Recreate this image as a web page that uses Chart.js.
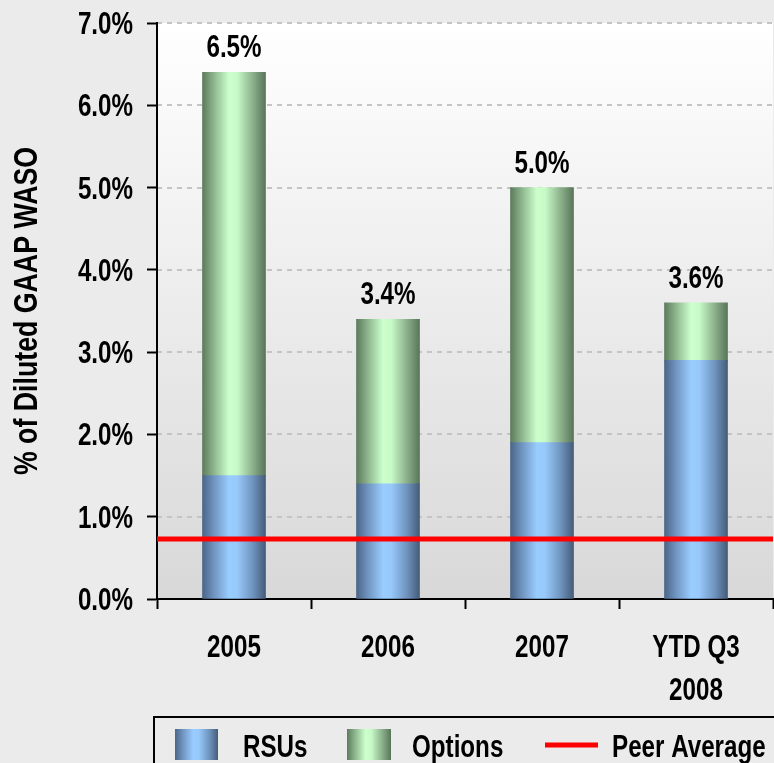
<!DOCTYPE html>
<html>
<head>
<meta charset="utf-8">
<script src="https://cdn.jsdelivr.net/npm/chart.js@4.4.1/dist/chart.umd.min.js"></script>
<style>
  html, body { margin: 0; padding: 0; background: #ebebeb; }
</style>
</head>
<body>
<canvas id="myChart" width="774" height="763"></canvas>
<script>
// values (percent of diluted GAAP WASO)
const categories = ['2005', '2006', '2007', ['YTD Q3', '2008']];
const rsus = [1.5, 1.4, 1.9, 2.9];
const options = [4.9, 2.0, 3.1, 0.7];
const totalLabels = ['6.5%', '3.4%', '5.0%', '3.6%'];
const peerAverage = [0.73];
const legendNames = ['RSUs', 'Options', 'Peer Average'];
const yTitle = '% of Diluted GAAP WASO';

const FONT = "'Liberation Sans', Arial, sans-serif";
const SQUEEZE = 0.78;   // narrow look, no condensed face installed
const BAR_W = 63;

const blueStops = ['#4b6688', '#6f94bf', '#99ccff', '#97c9fb', '#6f93bd', '#455c7a'];
const greenStops = ['#5d7b5d', '#8db58d', '#ccffcc', '#c8fac8', '#8bb08b', '#597559'];

function makeGradient(ctx, x0, x1, stops) {
  const g = ctx.createLinearGradient(x0, 0, x1, 0);
  const pos = [0, 0.18, 0.42, 0.55, 0.8, 1];
  stops.forEach((c, i) => g.addColorStop(pos[i], c));
  return g;
}

function barFill(stops) {
  return (c) => {
    const chart = c.chart;
    const xs = chart.scales.x;
    if (!chart.chartArea || !xs) return stops[2];
    const cx = xs.getPixelForValue(c.dataIndex);
    return makeGradient(chart.ctx, cx - BAR_W / 2, cx + BAR_W / 2, stops);
  };
}

function narrowText(ctx, text, x, y, align, size, squeeze) {
  ctx.save();
  ctx.translate(x, y);
  ctx.scale(squeeze || SQUEEZE, 1);
  ctx.font = 'bold ' + (size || 31) + 'px ' + FONT;
  ctx.textAlign = align;
  ctx.textBaseline = 'alphabetic';
  ctx.fillStyle = '#000';
  ctx.fillText(text, 0, 0);
  ctx.restore();
}

// page + plot area background, dashed grid
const backdrop = {
  id: 'backdrop',
  beforeDraw(chart) {
    const { ctx, chartArea: a } = chart;
    ctx.save();
    ctx.fillStyle = '#ebebeb';
    ctx.fillRect(0, 0, chart.width, chart.height);
    const g = ctx.createLinearGradient(0, a.top, 0, a.bottom);
    g.addColorStop(0, '#ffffff');
    g.addColorStop(1, '#d8d8d8');
    ctx.fillStyle = g;
    ctx.fillRect(a.left, a.top, a.right - a.left, a.bottom - a.top);
    const ys = chart.scales.y;
    ctx.strokeStyle = '#c4c4c4';
    ctx.lineWidth = 2;
    ctx.setLineDash([5, 5]);
    ys.ticks.forEach(t => {
      if (t.value === 0) return;
      const y = Math.round(ys.getPixelForValue(t.value));
      ctx.beginPath();
      ctx.moveTo(a.left, y);
      ctx.lineTo(a.right, y);
      ctx.stroke();
    });
    ctx.restore();
  }
};

// peer line, totals, axis texts and legend
const extras = {
  id: 'extras',
  afterDatasetsDraw(chart) {
    const { ctx, chartArea: a } = chart;
    const ys = chart.scales.y;
    ctx.save();
    const py = ys.getPixelForValue(peerAverage[0]);
    ctx.strokeStyle = '#ff0000';
    ctx.lineWidth = 5;
    ctx.beginPath();
    ctx.moveTo(a.left, py);
    ctx.lineTo(a.right, py);
    ctx.stroke();
    ctx.restore();

    chart.getDatasetMeta(1).data.forEach((bar, i) => {
      narrowText(ctx, totalLabels[i], bar.x, bar.y - 15, 'center');
    });
  },
  afterDraw(chart) {
    const ctx = chart.ctx;
    const xs = chart.scales.x;
    const ys = chart.scales.y;
    const a = chart.chartArea;

    // y tick labels
    ys.ticks.forEach(t => {
      narrowText(ctx, t.value.toFixed(1) + '%', 133, ys.getPixelForValue(t.value) + 11, 'right');
    });
    // x tick labels
    categories.forEach((c, i) => {
      const lines = Array.isArray(c) ? c : [c];
      lines.forEach((line, k) => {
        narrowText(ctx, line, xs.getPixelForValue(i), xs.top + 58 + k * 43, 'center');
      });
    });
    // y title
    ctx.save();
    ctx.translate(37, (a.top + a.bottom) / 2);
    ctx.rotate(-Math.PI / 2);
    narrowText(ctx, yTitle, 0, 0, 'center', 33, 0.81);
    ctx.restore();

    // legend
    ctx.save();
    ctx.strokeStyle = '#000';
    ctx.lineWidth = 2;
    ctx.strokeRect(154, 717, 640, 60);

    ctx.fillStyle = makeGradient(ctx, 175, 218, blueStops);
    ctx.fillRect(175, 729, 43, 31);
    ctx.fillStyle = makeGradient(ctx, 347, 391, greenStops);
    ctx.fillRect(347, 729, 44, 31);

    ctx.strokeStyle = '#ff0000';
    ctx.lineWidth = 5;
    ctx.beginPath();
    ctx.moveTo(545, 745);
    ctx.lineTo(598, 745);
    ctx.stroke();
    ctx.restore();

    narrowText(ctx, legendNames[0], 243, 757, 'left');
    narrowText(ctx, legendNames[1], 412, 757, 'left');
    narrowText(ctx, legendNames[2], 612, 757, 'left');
  }
};

const ctx = document.getElementById('myChart');

new Chart(ctx, {
  type: 'bar',
  data: {
    labels: categories,
    datasets: [{
      label: legendNames[0],
      data: rsus,
      backgroundColor: barFill(blueStops),
      barThickness: BAR_W
    }, {
      label: legendNames[1],
      data: options,
      backgroundColor: barFill(greenStops),
      barThickness: BAR_W
    }]
  },
  options: {
    responsive: false,
    animation: false,
    devicePixelRatio: 1,
    layout: { padding: { top: 23, right: 1, bottom: 47, left: 0 } },
    plugins: {
      legend: { display: false },
      tooltip: { enabled: false }
    },
    scales: {
      x: {
        stacked: true,
        afterFit(s) { s.height = 117; },
        grid: {
          offset: true,
          drawOnChartArea: false,
          tickLength: 10,
          tickColor: '#000',
          tickWidth: 2
        },
        border: { color: '#000', width: 2 },
        ticks: { display: false }
      },
      y: {
        stacked: true,
        min: 0,
        max: 7,
        afterFit(s) { s.width = 157; },
        grid: {
          drawOnChartArea: false,
          tickLength: 10,
          tickColor: '#000',
          tickWidth: 2
        },
        border: { color: '#000', width: 2 },
        ticks: { display: false, stepSize: 1 }
      }
    }
  },
  plugins: [backdrop, extras]
});
</script>
</body>
</html>
